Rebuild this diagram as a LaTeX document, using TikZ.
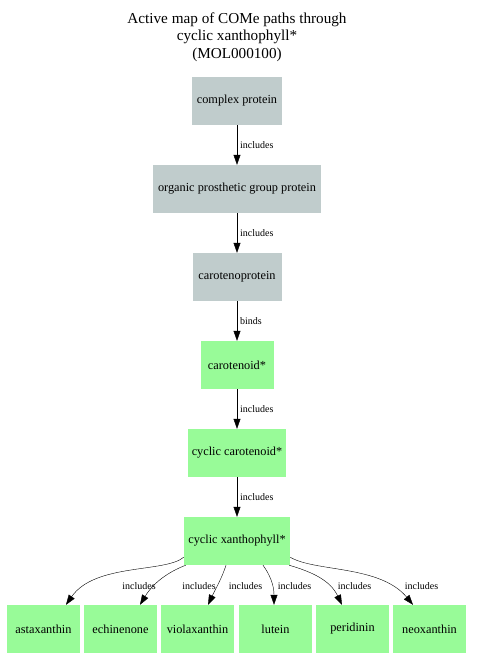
\documentclass[tikz,border=0pt]{standalone}
\usepackage{fontspec}
\setmainfont{Liberation Serif}
\usetikzlibrary{arrows.meta}

\definecolor{protgrey}{RGB}{192,204,204}
\definecolor{molgreen}{RGB}{152,251,152}

\tikzset{
    box/.style={draw=none, minimum height=48pt, inner sep=0pt, font=\fontsize{12.3}{14}\selectfont},
    protbox/.style={box, fill=protgrey},
    molbox/.style={box, fill=molgreen},
    edge/.style={-{Triangle[length=10pt,width=7pt]}, thin},
    lbl/.style={font=\fontsize{10}{12}\selectfont, inner sep=0pt},
}

\begin{document}
\begin{tikzpicture}[x=1pt, y=-1pt]
            \useasboundingbox (0, 0) rectangle (480, 670);
            % title
            \node[align=center, font=\fontsize{15.2}{17.5}\selectfont] (title) at (237, 37)
                {Active map of COMe paths through\\cyclic xanthophyll*\\(MOL000100)};

            % chain
            \node[protbox, minimum width=90pt] (complex) at (237, 101) {complex protein};
            \node[protbox, minimum width=168pt] (organic) at (237, 189) {organic prosthetic group protein};
            \node[protbox, minimum width=89pt] (caroprot) at (237, 277) {carotenoprotein};
            \node[molbox, minimum width=73pt] (carot) at (237, 365) {carotenoid*};
            \node[molbox, minimum width=98pt] (cyccarot) at (237, 453) {cyclic carotenoid*};
            \node[molbox, minimum width=106pt] (xanth) at (237, 541) {cyclic xanthophyll*};

            % bottom row
            \node[molbox, minimum width=73pt] (asta) at (43.5, 629) {astaxanthin};
            \node[molbox, minimum width=73pt] (echi) at (120.5, 629) {echinenone};
            \node[molbox, minimum width=73pt] (viola) at (197.5, 629) {violaxanthin};
            \node[molbox, minimum width=73pt] (lutein) at (275.5, 629) {lutein};
            \node[molbox, minimum width=73pt] (peri) at (352.5, 629) {peridinin};
            \node[molbox, minimum width=73pt] (neo) at (429.5, 629) {neoxanthin};

            \draw[edge] (complex) -- node[lbl, right=3pt] {includes} (organic);
            \draw[edge] (organic) -- node[lbl, right=3pt] {includes} (caroprot);
            \draw[edge] (caroprot) -- node[lbl, right=3pt] {binds} (carot);
            \draw[edge] (carot) -- node[lbl, right=3pt] {includes} (cyccarot);
            \draw[edge] (cyccarot) -- node[lbl, right=3pt] {includes} (xanth);

            \draw[edge] ([yshift=8pt]xanth.south west) .. controls (165, 573) and (95, 563) .. ([xshift=22.5pt]asta.north);
            \draw[edge] ([xshift=2pt]xanth.south west) .. controls (173, 570) and (155, 580) .. ([xshift=19.5pt]echi.north);
            \draw[edge] ([xshift=-11pt]xanth.south) .. controls (222, 578) and (215, 590) .. ([xshift=10.5pt]viola.north);
            \draw[edge] ([xshift=26pt]xanth.south) .. controls (270, 575) and (274, 585) .. ([xshift=-1.5pt]lutein.north);
            \draw[edge] ([xshift=-1pt]xanth.south east) .. controls (312, 572) and (330, 580) .. ([xshift=-10.5pt]peri.north);
            \draw[edge] ([yshift=8pt]xanth.south east) .. controls (315, 572) and (380, 565) .. ([xshift=-16.5pt]neo.north);

            \node[lbl] (la) at (139, 586) {includes};
            \node[lbl] (lb) at (199, 586) {includes};
            \node[lbl] (lc) at (245.5, 586) {includes};
            \node[lbl] (ld) at (294.5, 586) {includes};
            \node[lbl] (le) at (354.5, 586) {includes};
            \node[lbl] (lf) at (421.5, 586) {includes};
        \end{tikzpicture}
\end{document}
